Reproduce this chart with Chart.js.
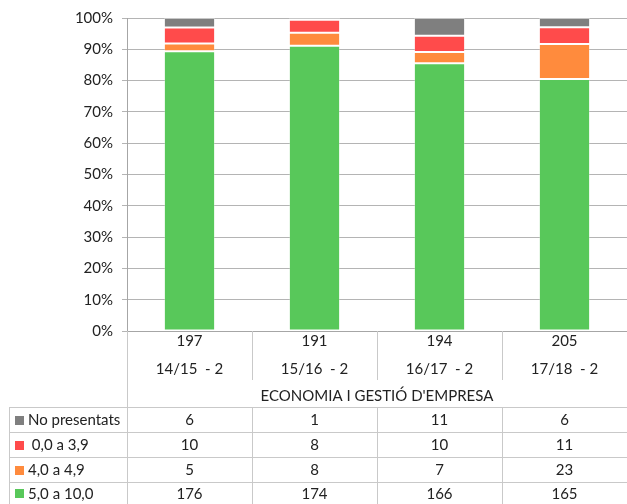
<!DOCTYPE html>
<html><head><meta charset="utf-8">
<script src="https://cdn.jsdelivr.net/npm/chart.js@4/dist/chart.umd.min.js"></script>
<style>html,body{margin:0;padding:0;background:#fff;}#wrap{width:627px;height:504px;position:relative;}</style>
</head><body><div id="wrap"><canvas id="c" width="627" height="504"></canvas></div>
<script>
const categories = ['14/15  - 2', '15/16  - 2', '16/17  - 2', '17/18  - 2'];
const totals = [197, 191, 194, 205];
const groupTitle = "ECONOMIA I GESTIÓ D'EMPRESA";
const seriesNames = ['No presentats', ' 0,0 a 3,9', '4,0 a 4,9', '5,0 a 10,0'];
const noPresentats = [6, 1, 11, 6];
const suspens = [10, 8, 10, 11];
const nota4 = [5, 8, 7, 23];
const aprovats = [176, 174, 166, 165];
const seriesColors = ['#7f7f7f', '#ff4b4b', '#ff8b3d', '#58c85a'];
const yTicks = [0, 10, 20, 30, 40, 50, 60, 70, 80, 90, 100];

const seriesValues = [noPresentats, suspens, nota4, aprovats];
const pct = arr => arr.map((v, i) => v / totals[i] * 100);
const FONT = 'Lato, "Open Sans", sans-serif';

// stack order bottom->top: aprovats, nota4, suspens, noPresentats
const order = [3, 2, 1, 0];
const datasets = order.map(k => ({
  label: seriesNames[k],
  data: pct(seriesValues[k]),
  backgroundColor: seriesColors[k],
  borderColor: 'rgba(255,255,255,0.25)',
  borderWidth: 1,
  borderSkipped: false,
  stack: 's',
  barPercentage: 0.41,
  categoryPercentage: 1.0
}));

const tablePlugin = {
  id: 'tablePlugin',
  afterDraw(chart) {
    const ctx = chart.ctx;
    const x = chart.scales.x;
    const area = chart.chartArea;
    const n = categories.length;
    const step = (area.right - area.left) / n;
    const left = area.left, right = area.right, bot = area.bottom;
    const tableLeft = 9;
    const hLine = 407;
    const rows = [407, 432, 457, 482, 504];
    ctx.save();
    ctx.strokeStyle = '#c9c9c9';
    ctx.lineWidth = 1;
    const line = (x1, y1, x2, y2) => { ctx.beginPath(); ctx.moveTo(x1, y1); ctx.lineTo(x2, y2); ctx.stroke(); };
    const lx = Math.round(left) + 0.5;
    line(lx, bot, lx, 504);
    for (let i = 1; i < n; i++) {
      const bx = Math.round(x.getPixelForValue(i) - step / 2) + 0.5;
      line(bx, bot, bx, 380);
      line(bx, hLine, bx, 504);
    }
    for (let r = 0; r < rows.length - 1; r++) {
      line(tableLeft, rows[r] + 0.5, 627, rows[r] + 0.5);
    }
    line(tableLeft + 0.5, hLine, tableLeft + 0.5, 504);
    ctx.fillStyle = '#222';
    ctx.font = '15px ' + FONT;
    ctx.textAlign = 'center';
    ctx.textBaseline = 'middle';
    for (let i = 0; i < n; i++) {
      const cx = x.getPixelForValue(i);
      ctx.fillText(String(totals[i]), cx, 341);
      ctx.fillText(categories[i], cx, 369);
    }
    ctx.fillText(groupTitle, (left + right) / 2, 396);
    for (let r = 0; r < seriesNames.length; r++) {
      const cy = (rows[r] + rows[r + 1]) / 2 + 1;
      for (let i = 0; i < n; i++) {
        ctx.textAlign = 'center';
        ctx.fillText(String(seriesValues[r][i]), x.getPixelForValue(i), cy);
      }
      ctx.fillStyle = seriesColors[r];
      ctx.fillRect(15, Math.round(cy - 5), 9, 9);
      ctx.fillStyle = '#222';
      ctx.textAlign = 'left';
      ctx.fillText(seriesNames[r], 28, cy);
    }
    ctx.restore();
  }
};

new Chart(document.getElementById('c'), {
  type: 'bar',
  data: { labels: categories, datasets },
  options: {
    responsive: false,
    animation: false,
    layout: { padding: { top: 16, right: 0, bottom: 165, left: 0 } },
    plugins: { legend: { display: false }, tooltip: { enabled: false } },
    scales: {
      x: {
        stacked: true,
        offset: true,
        ticks: { display: false },
        grid: { display: false },
        border: { display: true, color: '#a6a6a6' }
      },
      y: {
        stacked: true,
        min: 0, max: 100,
        afterBuildTicks: s => { s.ticks = yTicks.map(v => ({ value: v })); },
        afterFit: s => { s.width = 127; },
        ticks: { callback: v => v + '%', color: '#222', font: { size: 15, family: FONT }, padding: 9 },
        grid: { color: '#b4b4b4', tickLength: 5, drawTicks: true },
        border: { display: true, color: '#a6a6a6' }
      }
    }
  },
  plugins: [tablePlugin]
});
</script></body></html>
